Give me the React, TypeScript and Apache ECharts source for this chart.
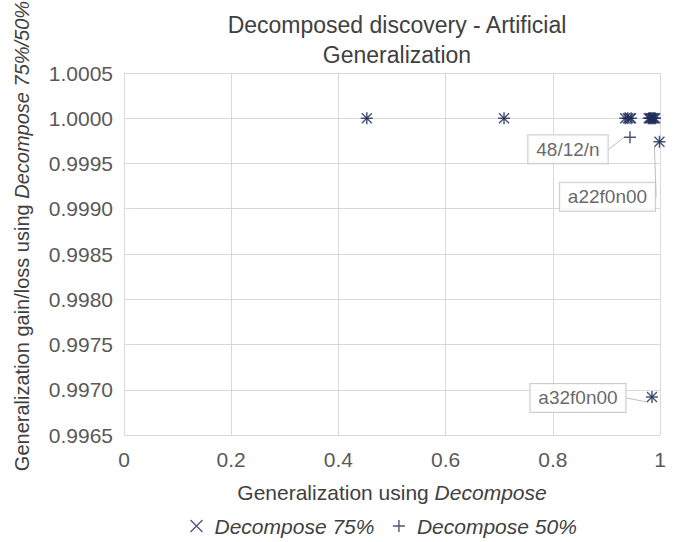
import React, { useEffect, useRef } from "react";
import * as echarts from "echarts";

const xTickValues = [0, 0.2, 0.4, 0.6, 0.8, 1];
const yTickLabels = ["0.9965", "0.9970", "0.9975", "0.9980", "0.9985", "0.9990", "0.9995", "1.0000", "1.0005"];

// Decompose 75% (x marker)
const x75 = [0.453, 0.709, 0.935, 0.94, 0.944, 0.946, 0.979, 0.981, 0.983, 0.985, 0.987, 0.989, 0.991, 0.999, 0.985];
const y75 = [1.0, 1.0, 1.0, 1.0, 1.0, 1.0, 1.0, 1.0, 1.0, 1.0, 1.0, 1.0, 1.0, 0.99974, 0.99692];
const names75 = ["", "", "", "", "", "", "", "", "", "", "", "", "", "a22f0n00", "a32f0n00"];

// Decompose 50% (+ marker)
const x50 = [0.453, 0.709, 0.935, 0.94, 0.944, 0.946, 0.979, 0.981, 0.983, 0.985, 0.987, 0.989, 0.991, 0.999, 0.985];
const y50 = [1.0, 1.0, 1.0, 1.0, 0.99979, 1.0, 1.0, 1.0, 1.0, 1.0, 1.0, 1.0, 1.0, 0.99974, 0.99692];
const names50 = ["", "", "", "", "48/12/n", "", "", "", "", "", "", "", "", "", ""];

const labelOffsets: Record<string, [number, number]> = {
  "48/12/n": [-62, 12],
  a22f0n00: [-52, 55],
  a32f0n00: [-74, 1],
};

const NAVY = "#1f2d5a";
const FONT = "'Liberation Sans', Arial, sans-serif";
const CROSS = "path://M0,0L10,10M10,0L0,10";
const PLUS = "path://M5,0L5,10M0,5L10,5";

const itemLabel = {
  show: true,
  position: "inside" as const,
  formatter: (p: any) => p.name,
  fontFamily: FONT,
  fontSize: 19,
  color: "#404040",
  backgroundColor: "#ffffff",
  borderColor: "#bfbfbf",
  borderWidth: 1,
  padding: [5, 8, 4, 8],
};

function buildData(xs: number[], ys: number[], names: string[]) {
  return xs.map((x, i) =>
    names[i]
      ? {
          value: [x, ys[i]],
          name: names[i],
          label: itemLabel,
          labelLine: { show: true, lineStyle: { color: "#bfbfbf", width: 1 } },
        }
      : { value: [x, ys[i]], name: "" }
  );
}

export default function App() {
  const ref = useRef<HTMLDivElement>(null);
  useEffect(() => {
    if (!ref.current) return;
    const chart = echarts.init(ref.current, null, { renderer: "svg" });
    const layout = (seriesNames: string[]) => (params: any) => {
      const off = labelOffsets[seriesNames[params.dataIndex]];
      if (!off) return {};
      return { dx: off[0], dy: off[1] };
    };
    chart.setOption({
      animation: false,
      backgroundColor: "#ffffff",
      title: {
        text: "Decomposed discovery - Artificial\nGeneralization",
        left: 392,
        textAlign: "center",
        top: 5,
        textStyle: { fontFamily: FONT, fontSize: 23, fontWeight: "normal", color: "#404040", lineHeight: 30 },
      },
      grid: { left: 124, right: 14, top: 73, bottom: 107 },
      xAxis: {
        type: "value",
        min: 0,
        max: 1,
        interval: 0.2,
        axisLine: { show: false },
        axisTick: { show: false },
        splitLine: { lineStyle: { color: "#d9d9d9", width: 1 } },
        axisLabel: {
          fontFamily: FONT,
          fontSize: 21,
          color: "#595959",
          margin: 14,
          formatter: (v: number) => {
            const i = xTickValues.findIndex((t) => Math.abs(t - v) < 1e-9);
            return i >= 0 ? String(xTickValues[i]) : "";
          },
        },
        name: "{a|Generalization using }{b|Decompose}",
        nameLocation: "middle",
        nameGap: 47,
        nameTextStyle: {
          rich: {
            a: { fontFamily: FONT, fontSize: 21, color: "#404040" },
            b: { fontFamily: FONT, fontSize: 21, color: "#404040", fontStyle: "italic" },
          },
        },
      },
      yAxis: {
        type: "value",
        min: 0.9965,
        max: 1.0005,
        interval: 0.0005,
        axisLine: { show: true, lineStyle: { color: "#d9d9d9" } },
        axisTick: { show: false },
        splitLine: { lineStyle: { color: "#d9d9d9", width: 1 } },
        axisLabel: {
          fontFamily: FONT,
          fontSize: 21,
          color: "#595959",
          margin: 11,
          formatter: (v: number) => {
            const i = Math.round((v - 0.9965) / 0.0005);
            return yTickLabels[i] ?? "";
          },
        },
      },
      graphic: [
        {
          type: "text",
          x: 22,
          y: 236,
          rotation: Math.PI / 2,
          style: {
            text: "{a|Generalization gain/loss using }{b|Decompose 75%/50%}",
            align: "center",
            verticalAlign: "middle",
            rich: {
              a: { fontFamily: FONT, fontSize: 20, fill: "#404040" },
              b: { fontFamily: FONT, fontSize: 20, fill: "#404040", fontStyle: "italic" },
            },
          },
        },
      ],
      legend: {
        bottom: 4,
        left: 188,
        padding: 0,
        itemWidth: 12,
        itemHeight: 12,
        itemGap: 16,
        textStyle: { fontFamily: FONT, fontSize: 21, lineHeight: 24, color: "#404040", fontStyle: "italic", padding: [0, 0, 0, 7] },
        data: [
          { name: "Decompose 75%", icon: CROSS, itemStyle: { color: "none", borderColor: NAVY, borderWidth: 1.4 } },
          { name: "Decompose 50%", icon: PLUS, itemStyle: { color: "none", borderColor: NAVY, borderWidth: 1.4 } },
        ],
      },
      series: [
        {
          name: "Decompose 75%",
          type: "scatter",
          symbol: CROSS,
          symbolSize: 10,
          itemStyle: { color: "none", borderColor: NAVY, borderWidth: 1.5 },
          data: buildData(x75, y75, names75),
          labelLayout: layout(names75),
          z: 3,
        },
        {
          name: "Decompose 50%",
          type: "scatter",
          symbol: PLUS,
          symbolSize: 12,
          itemStyle: { color: "none", borderColor: NAVY, borderWidth: 1.5 },
          data: buildData(x50, y50, names50),
          labelLayout: layout(names50),
          z: 3,
        },
      ],
    });
    return () => chart.dispose();
  }, []);
  return <div ref={ref} style={{ position: "absolute", left: 0, top: 0, width: 674, height: 542 }} />;
}
